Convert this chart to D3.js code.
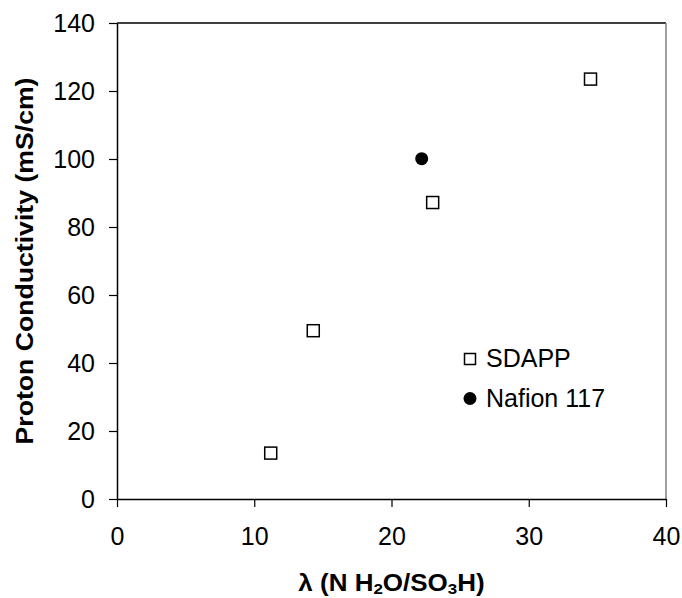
<!DOCTYPE html>
<html>
<head>
<meta charset="utf-8">
<script src="https://cdn.jsdelivr.net/npm/d3@7"></script>
<style>
  body { margin: 0; background: #fff; }
  svg { font-family: "Liberation Sans", Arial, sans-serif; }
</style>
</head>
<body>
<div id="wrapper"></div>
<script>
// data
const sdappLambda = [11.2, 14.3, 23.0, 34.5]
const sdappCond = [13.5, 49.5, 87.2, 123.5]
const nafionLambda = [22.2]
const nafionCond = [100.1]
const xTicks = [0, 10, 20, 30, 40]
const yTicks = [0, 20, 40, 60, 80, 100, 120, 140]
const legendLabels = ["SDAPP", "Nafion 117"]

const sdapp = sdappLambda.map((x, i) => ({x: x, y: sdappCond[i]}))
const nafion = nafionLambda.map((x, i) => ({x: x, y: nafionCond[i]}))

let dimensions = {
  width: 682,
  height: 598,
  margins: {top: 23, right: 16, bottom: 99, left: 117},
}
dimensions.boundedWidth = dimensions.width - dimensions.margins.left - dimensions.margins.right
dimensions.boundedHeight = dimensions.height - dimensions.margins.top - dimensions.margins.bottom

const wrapper = d3.select("#wrapper")
  .append("svg")
  .attr("width", dimensions.width)
  .attr("height", dimensions.height)

const bounds = wrapper.append("g")
  .attr("transform", `translate(${dimensions.margins.left},${dimensions.margins.top})`)

const xScale = d3.scaleLinear()
  .domain([0, 40])
  .range([0, dimensions.boundedWidth])

const yScale = d3.scaleLinear()
  .domain([0, 140])
  .range([dimensions.boundedHeight, 0])

// plot frame: top black, right gray
bounds.append("line")
  .attr("x1", 0).attr("x2", dimensions.boundedWidth)
  .attr("y1", 0).attr("y2", 0)
  .attr("stroke", "#000").attr("stroke-width", 1.5)
bounds.append("line")
  .attr("x1", dimensions.boundedWidth).attr("x2", dimensions.boundedWidth)
  .attr("y1", 0).attr("y2", dimensions.boundedHeight)
  .attr("stroke", "#808080").attr("stroke-width", 1.5)

// axes
const yAxis = bounds.append("g")
  .call(d3.axisLeft(yScale).tickValues(yTicks).tickSize(8).tickPadding(14).tickSizeOuter(0))
const xAxis = bounds.append("g")
  .attr("transform", `translate(0,${dimensions.boundedHeight})`)
  .call(d3.axisBottom(xScale).tickValues(xTicks).tickSize(8).tickPadding(20).tickSizeOuter(0))

for (const ax of [xAxis, yAxis]) {
  ax.select(".domain").attr("stroke", "#000").attr("stroke-width", 1.5)
  ax.selectAll(".tick line").attr("stroke", "#000").attr("stroke-width", 1.2)
  ax.selectAll(".tick text")
    .attr("font-family", "Liberation Sans, Arial, sans-serif")
    .attr("font-size", 25)
    .attr("fill", "#000")
}

// data
const sq = 12
bounds.selectAll(".sdapp")
  .data(sdapp)
  .join("rect")
  .attr("class", "sdapp")
  .attr("x", d => xScale(d.x) - sq / 2)
  .attr("y", d => yScale(d.y) - sq / 2)
  .attr("width", sq)
  .attr("height", sq)
  .attr("fill", "#fff")
  .attr("stroke", "#000")
  .attr("stroke-width", 1.5)

bounds.selectAll(".nafion")
  .data(nafion)
  .join("circle")
  .attr("class", "nafion")
  .attr("cx", d => xScale(d.x))
  .attr("cy", d => yScale(d.y))
  .attr("r", 6.5)
  .attr("fill", "#000")

// legend
const legend = wrapper.append("g")
  .attr("transform", "translate(470,359)")
legend.append("rect")
  .attr("x", -5.5).attr("y", -5.5)
  .attr("width", 11).attr("height", 11)
  .attr("fill", "#fff").attr("stroke", "#000").attr("stroke-width", 1.5)
legend.append("circle")
  .attr("cx", 0).attr("cy", 39.5).attr("r", 6.5)
  .attr("fill", "#000")
legend.selectAll("text")
  .data(legendLabels)
  .join("text")
  .attr("x", 16)
  .attr("y", (d, i) => i * 39.5 + 8)
  .attr("font-size", 25)
  .text(d => d)

// axis titles
const xTitle = wrapper.append("text")
  .attr("transform", `translate(${dimensions.margins.left + dimensions.boundedWidth / 2},591) scale(1.13,1)`)
  .attr("text-anchor", "middle")
  .attr("font-size", 23)
  .attr("font-weight", "bold")
xTitle.append("tspan").text("λ (N H")
xTitle.append("tspan").attr("font-size", 15).attr("dy", 3).text("2")
xTitle.append("tspan").attr("dy", -3).text("O/SO")
xTitle.append("tspan").attr("font-size", 15).attr("dy", 3).text("3")
xTitle.append("tspan").attr("dy", -3).text("H)")

wrapper.append("text")
  .attr("transform", `translate(33,${dimensions.margins.top + dimensions.boundedHeight / 2}) rotate(-90)`)
  .attr("text-anchor", "middle")
  .attr("font-size", 24)
  .attr("font-weight", "bold")
  .attr("textLength", 367)
  .attr("lengthAdjust", "spacingAndGlyphs")
  .text("Proton Conductivity (mS/cm)")
</script>
</body>
</html>
